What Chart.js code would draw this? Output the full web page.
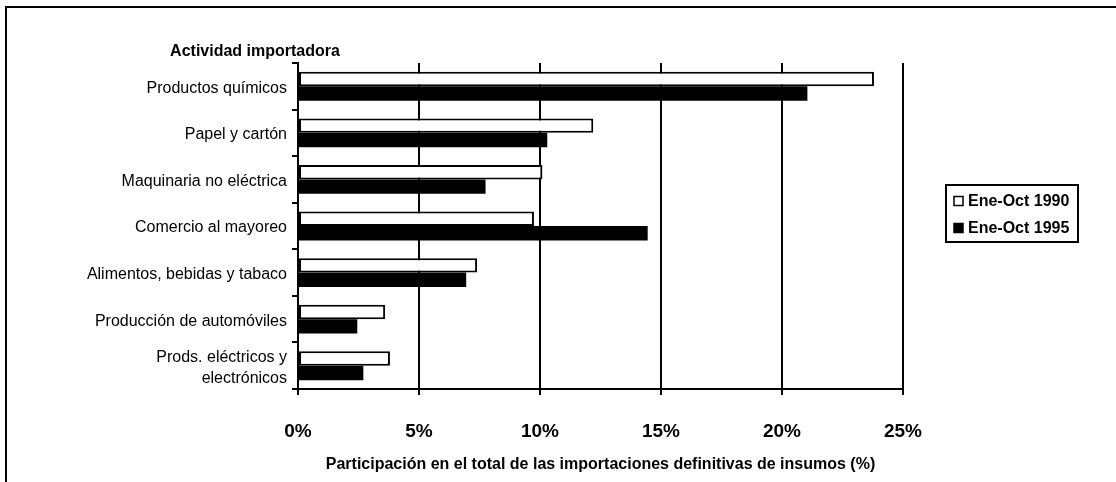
<!DOCTYPE html>
<html>
<head>
<meta charset="utf-8">
<script src="https://cdn.jsdelivr.net/npm/chart.js@4/dist/chart.umd.min.js"></script>
<style>
  html, body { margin: 0; padding: 0; background: #ffffff; }
  #wrap { width: 1116px; height: 482px; }
</style>
</head>
<body>
<div id="wrap"><canvas id="c" width="1116" height="482"></canvas></div>
<script>
// Importing activities, top to bottom
const categories = [
  'Productos químicos',
  'Papel y cartón',
  'Maquinaria no eléctrica',
  'Comercio al mayoreo',
  'Alimentos, bebidas y tabaco',
  'Producción de automóviles',
  ['Prods. eléctricos y', 'electrónicos']
];
// Share of total definitive input imports (%)
const seriesNames = ['Ene-Oct 1990', 'Ene-Oct 1995'];
const values1990 = [23.8, 12.2, 10.1, 9.75, 7.4, 3.6, 3.8];
const values1995 = [21.05, 10.3, 7.75, 14.45, 6.95, 2.45, 2.7];
const xTickValues = [0, 5, 10, 15, 20, 25];

const FONT = '"Liberation Sans", Arial, sans-serif';

// Frame lines along the top and left edges, white background
const framePlugin = {
  id: 'frame',
  beforeDraw(chart) {
    const ctx = chart.ctx;
    ctx.save();
    ctx.fillStyle = '#ffffff';
    ctx.fillRect(0, 0, chart.width, chart.height);
    ctx.strokeStyle = '#000000';
    ctx.lineWidth = 2;
    ctx.beginPath();
    ctx.moveTo(6, chart.height);
    ctx.lineTo(6, 7);
    ctx.lineTo(chart.width, 7);
    ctx.stroke();
    ctx.restore();
  }
};

// Category axis heading above the labels
const headingPlugin = {
  id: 'heading',
  afterDraw(chart) {
    const ctx = chart.ctx;
    ctx.save();
    ctx.fillStyle = '#000000';
    ctx.font = 'bold 16px ' + FONT;
    ctx.textAlign = 'center';
    ctx.textBaseline = 'middle';
    ctx.fillText('Actividad importadora', 255, 52);
    ctx.restore();
  }
};

// Boxed legend on the right
const boxLegendPlugin = {
  id: 'boxLegend',
  afterDraw(chart) {
    const ctx = chart.ctx;
    const x0 = 946, y0 = 185, w = 132, h = 57;
    ctx.save();
    ctx.strokeStyle = '#000000';
    ctx.lineWidth = 2;
    ctx.strokeRect(x0, y0, w, h);
    ctx.font = 'bold 16px ' + FONT;
    ctx.textBaseline = 'middle';
    ctx.textAlign = 'left';
    chart.data.datasets.forEach((ds, i) => {
      const cy = 201 + i * 27;
      ctx.fillStyle = ds.backgroundColor;
      ctx.fillRect(954, cy - 4.5, 9, 9);
      ctx.strokeStyle = '#000000';
      ctx.lineWidth = 1.5;
      ctx.strokeRect(954, cy - 4.5, 9, 9);
      ctx.fillStyle = '#000000';
      ctx.fillText(ds.label, 968, cy + 1);
    });
    ctx.restore();
  }
};

new Chart(document.getElementById('c'), {
  type: 'bar',
  data: {
    labels: categories,
    datasets: [
      {
        label: seriesNames[0],
        data: values1990,
        backgroundColor: '#ffffff',
        borderColor: '#000000',
        borderWidth: 2,
        borderSkipped: false
      },
      {
        label: seriesNames[1],
        data: values1995,
        backgroundColor: '#000000',
        borderColor: '#000000',
        borderWidth: 0
      }
    ]
  },
  options: {
    indexAxis: 'y',
    responsive: false,
    animation: false,
    events: [],
    layout: { padding: { left: 0, right: 213, top: 63, bottom: 0 } },
    datasets: { bar: { categoryPercentage: 0.62, barPercentage: 1.0 } },
    plugins: {
      legend: { display: false },
      title: { display: false },
      tooltip: { enabled: false }
    },
    scales: {
      x: {
        type: 'linear',
        min: 0,
        max: 25,
        afterBuildTicks(scale) {
          scale.ticks = xTickValues.map(v => ({ value: v }));
        },
        afterFit(scale) { scale.height = 93; },
        ticks: {
          callback: v => v + '%',
          color: '#000000',
          font: { family: FONT, size: 19, weight: 'bold' },
          padding: 25,
          maxRotation: 0
        },
        grid: {
          color: '#000000',
          lineWidth: 2,
          tickLength: 6,
          drawOnChartArea: true,
          drawTicks: true
        },
        border: { display: true, color: '#000000', width: 2 },
        title: {
          display: true,
          text: 'Participación en el total de las importaciones definitivas de insumos (%)',
          color: '#000000',
          font: { family: FONT, size: 16, weight: 'bold' },
          padding: { top: 4, bottom: 8 }
        }
      },
      y: {
        afterFit(scale) { scale.width = 298; },
        ticks: {
          color: '#000000',
          font: { family: FONT, size: 16, lineHeight: 1.3 },
          padding: 5,
          labelOffset: 2,
          autoSkip: false
        },
        grid: {
          offset: true,
          color: '#000000',
          lineWidth: 2,
          tickLength: 6,
          drawOnChartArea: false,
          drawTicks: true
        },
        border: { display: true, color: '#000000', width: 2 }
      }
    }
  },
  plugins: [framePlugin, headingPlugin, boxLegendPlugin]
});
</script>
</body>
</html>
